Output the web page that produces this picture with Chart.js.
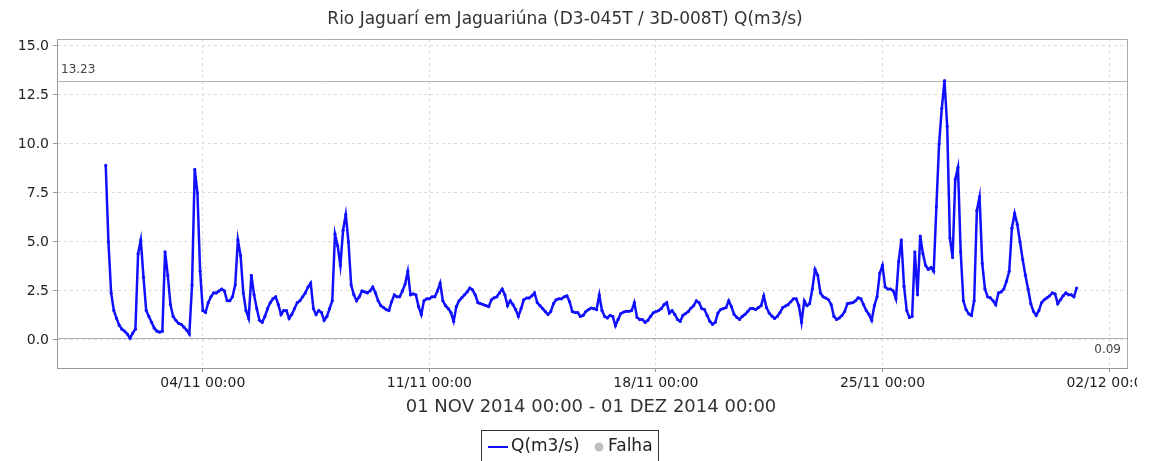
<!DOCTYPE html>
<html>
<head>
<meta charset="utf-8">
<script src="https://cdn.jsdelivr.net/npm/chart.js@4.4.1/dist/chart.umd.min.js"></script>
<style>
  html, body { margin: 0; padding: 0; background: #fff; }
  #wrap { width: 1137px; height: 461px; overflow: hidden; }
</style>
</head>
<body>
<div id="wrap"><canvas id="chart" width="1137" height="461"></canvas></div>
<script>
// Chart texts
const chartTitle = 'Rio Jaguarí em Jaguariúna (D3-045T / 3D-008T) Q(m3/s)';
const periodLabel = '01 NOV 2014 00:00 - 01 DEZ 2014 00:00';
const seriesLabel = 'Q(m3/s)';
const failLabel = 'Falha';

// Time axis: days since 01/11/2014 00:00, one reading every 2 hours
const startDay = 0;
const stepDays = 1 / 12;
const xTickDays = [3, 10, 17, 24, 31];
const xTickLabels = ['04/11 00:00', '11/11 00:00', '18/11 00:00', '25/11 00:00', '02/12 00:00'];
const yTicks = [0, 2.5, 5, 7.5, 10, 12.5, 15];

// Flow Q(m3/s), 12 readings per day
const flow = [
  8.9, 5.0, 2.4, 1.5, 1.1, 0.75, 0.55, 0.45, 0.3, 0.09, 0.35, 0.55,
  4.4, 5.1, 3.2, 1.5, 1.2, 0.9, 0.6, 0.45, 0.4, 0.45, 4.5, 3.3,
  1.8, 1.2, 1.0, 0.85, 0.8, 0.65, 0.5, 0.3, 2.8, 8.7, 7.5, 3.5,
  1.5, 1.4, 1.9, 2.2, 2.4, 2.4, 2.5, 2.6, 2.5, 2.0, 2.0, 2.2,
  2.8, 5.1, 4.3, 2.4, 1.5, 1.1, 3.3, 2.3, 1.6, 1.0, 0.9, 1.2,
  1.6, 1.9, 2.1, 2.2, 1.8, 1.3, 1.5, 1.5, 1.1, 1.3, 1.6, 1.9,
  2.0, 2.2, 2.4, 2.7, 2.9, 1.6, 1.3, 1.5, 1.4, 1.0, 1.2, 1.6,
  2.0, 5.4, 4.8, 3.8, 5.6, 6.4, 5.0, 2.8, 2.3, 2.0, 2.2, 2.5,
  2.45, 2.4, 2.5, 2.7, 2.4, 2.0, 1.75, 1.65, 1.55, 1.5, 1.95, 2.3,
  2.2, 2.2, 2.5, 2.85, 3.5, 2.3, 2.35, 2.3, 1.7, 1.3, 2.0, 2.1,
  2.1, 2.2, 2.2, 2.5, 2.9, 2.0, 1.75, 1.6, 1.4, 0.95, 1.7, 2.0,
  2.15, 2.3, 2.45, 2.65, 2.55, 2.3, 1.9, 1.85, 1.8, 1.75, 1.7, 2.05,
  2.15, 2.2, 2.4, 2.6, 2.3, 1.75, 2.0, 1.8, 1.55, 1.2, 1.6, 2.05,
  2.14, 2.14, 2.25, 2.4, 1.9, 1.75, 1.6, 1.45, 1.3, 1.45, 1.85, 2.05,
  2.1, 2.1, 2.2, 2.25, 1.95, 1.45, 1.4, 1.4, 1.2, 1.25, 1.45, 1.55,
  1.63, 1.6, 1.55, 2.3, 1.5, 1.2, 1.12, 1.25, 1.2, 0.72, 1.05, 1.35,
  1.42, 1.46, 1.46, 1.5, 1.9, 1.15, 1.04, 1.04, 0.9, 1.0, 1.2, 1.38,
  1.45, 1.5, 1.6, 1.8, 1.9, 1.37, 1.5, 1.3, 1.05, 0.95, 1.25, 1.35,
  1.45, 1.63, 1.75, 2.0, 1.9, 1.6, 1.55, 1.25, 0.95, 0.8, 0.9, 1.37,
  1.55, 1.6, 1.65, 2.0, 1.7, 1.3, 1.15, 1.05, 1.2, 1.3, 1.45, 1.6,
  1.6, 1.55, 1.65, 1.75, 2.25, 1.65, 1.37, 1.22, 1.1, 1.2, 1.4, 1.65,
  1.73, 1.8, 1.95, 2.1, 2.1, 1.75, 0.9, 2.0, 1.75, 1.85, 2.6, 3.6,
  3.3, 2.4, 2.2, 2.14, 2.05, 1.8, 1.2, 1.05, 1.12, 1.25, 1.45, 1.85,
  1.88, 1.9, 2.0, 2.15, 2.1, 1.8, 1.5, 1.3, 1.0, 1.75, 2.2, 3.4,
  3.8, 2.7, 2.6, 2.6, 2.5, 2.1, 4.0, 5.1, 2.73, 1.5, 1.15, 1.2,
  4.5, 2.3, 5.3, 4.4, 3.8, 3.6, 3.7, 3.5, 6.8, 10.0, 11.8, 13.23,
  10.9, 5.2, 4.2, 8.2, 8.8, 4.5, 2.0, 1.55, 1.33, 1.25, 2.0, 6.6,
  7.3, 3.9, 2.6, 2.2, 2.15, 2.0, 1.8, 2.4, 2.45, 2.6, 3.0, 3.5,
  5.7, 6.45, 5.9, 5.0, 4.1, 3.3, 2.6, 1.85, 1.45, 1.25, 1.5, 1.9,
  2.05, 2.15, 2.25, 2.4, 2.35, 1.85, 2.05, 2.25, 2.4, 2.3, 2.3, 2.2,
  2.65
];

const maxFlow = Math.max(...flow);
const minFlow = Math.min(...flow);
const FONT = '"DejaVu Sans", Verdana, sans-serif';
const LINE_BLUE = '#1010ff';

// Extra drawing: max/min markers, frame, title, period, legend
const decorPlugin = {
  id: 'decor',
  beforeDatasetsDraw(chart) {
    const { ctx, chartArea: a, scales: { y } } = chart;
    ctx.save();
    ctx.strokeStyle = '#b4b4b4';
    ctx.lineWidth = 1;
    [maxFlow, minFlow].forEach(v => {
      const py = Math.round(y.getPixelForValue(v)) + 0.5;
      ctx.beginPath();
      ctx.moveTo(a.left, py);
      ctx.lineTo(a.right, py);
      ctx.stroke();
    });
    ctx.fillStyle = '#444';
    ctx.font = '12px ' + FONT;
    ctx.textBaseline = 'bottom';
    ctx.textAlign = 'left';
    ctx.fillText(maxFlow.toFixed(2), a.left + 4, y.getPixelForValue(maxFlow) - 5);
    ctx.textBaseline = 'top';
    ctx.textAlign = 'right';
    ctx.fillText(minFlow.toFixed(2), a.right - 6, y.getPixelForValue(minFlow) + 6);
    ctx.restore();
  },
  afterDraw(chart) {
    const { ctx, chartArea: a } = chart;
    ctx.save();
    // top and right frame
    ctx.strokeStyle = '#aaa';
    ctx.lineWidth = 1;
    ctx.beginPath();
    ctx.moveTo(a.left, a.top + 0.5);
    ctx.lineTo(a.right + 0.5, a.top + 0.5);
    ctx.lineTo(a.right + 0.5, a.bottom);
    ctx.stroke();

    // title
    ctx.fillStyle = '#333';
    ctx.textAlign = 'center';
    ctx.textBaseline = 'middle';
    ctx.font = '17px ' + FONT;
    ctx.fillText(chartTitle, 565, 20);

    // period under the axis
    ctx.font = '18px ' + FONT;
    ctx.fillText(periodLabel, 591, 407);

    // legend box
    ctx.strokeStyle = '#333';
    ctx.strokeRect(481.5, 430.5, 177, 40);
    ctx.strokeStyle = LINE_BLUE;
    ctx.lineWidth = 2;
    ctx.beginPath();
    ctx.moveTo(488, 447);
    ctx.lineTo(508, 447);
    ctx.stroke();
    ctx.font = '17px ' + FONT;
    ctx.textAlign = 'left';
    ctx.fillStyle = '#222';
    ctx.fillText(seriesLabel, 511, 447);
    ctx.fillStyle = '#c0c0c0';
    ctx.beginPath();
    ctx.arc(599, 447, 4.5, 0, Math.PI * 2);
    ctx.fill();
    ctx.fillStyle = '#222';
    ctx.fillText(failLabel, 608, 447);
    ctx.restore();
  }
};

const points = flow.map((v, i) => ({ x: startDay + i * stepDays, y: v }));

new Chart(document.getElementById('chart'), {
  type: 'line',
  data: {
    datasets: [{
      label: seriesLabel,
      data: points,
      borderColor: LINE_BLUE,
      backgroundColor: LINE_BLUE,
      borderWidth: 2.5,
      pointRadius: 1.6,
      pointBorderWidth: 0,
      tension: 0,
      fill: false
    }]
  },
  options: {
    responsive: false,
    animation: false,
    layout: { padding: { top: 39, right: 10, left: 0, bottom: 0 } },
    plugins: {
      legend: { display: false },
      title: { display: false },
      tooltip: { enabled: false }
    },
    scales: {
      x: {
        type: 'linear',
        min: -1.506,
        max: 31.556,
        afterBuildTicks: scale => { scale.ticks = xTickDays.map(v => ({ value: v })); },
        afterFit: scale => {
          scale.height = 93;
          scale.paddingLeft = 0;
          scale.paddingRight = 0;
        },
        ticks: {
          autoSkip: false,
          maxRotation: 0,
          padding: 3,
          color: '#222',
          font: { family: FONT, size: 14 },
          callback: (value, index) => xTickLabels[index]
        },
        grid: { color: '#dcdcdc', tickColor: '#999', tickLength: 4 },
        border: { display: true, color: '#999', width: 1, dash: [3, 3] }
      },
      y: {
        min: -1.43,
        max: 15.35,
        afterBuildTicks: scale => { scale.ticks = yTicks.map(v => ({ value: v })); },
        afterFit: scale => {
          scale.width = 57;
          scale.paddingTop = 0;
          scale.paddingBottom = 0;
        },
        ticks: {
          padding: 4,
          color: '#222',
          font: { family: FONT, size: 14 },
          callback: value => value.toFixed(1)
        },
        grid: { color: '#dcdcdc', tickColor: '#999', tickLength: 4 },
        border: { display: true, color: '#999', width: 1, dash: [3, 3] }
      }
    }
  },
  plugins: [decorPlugin]
});
</script>
</body>
</html>
